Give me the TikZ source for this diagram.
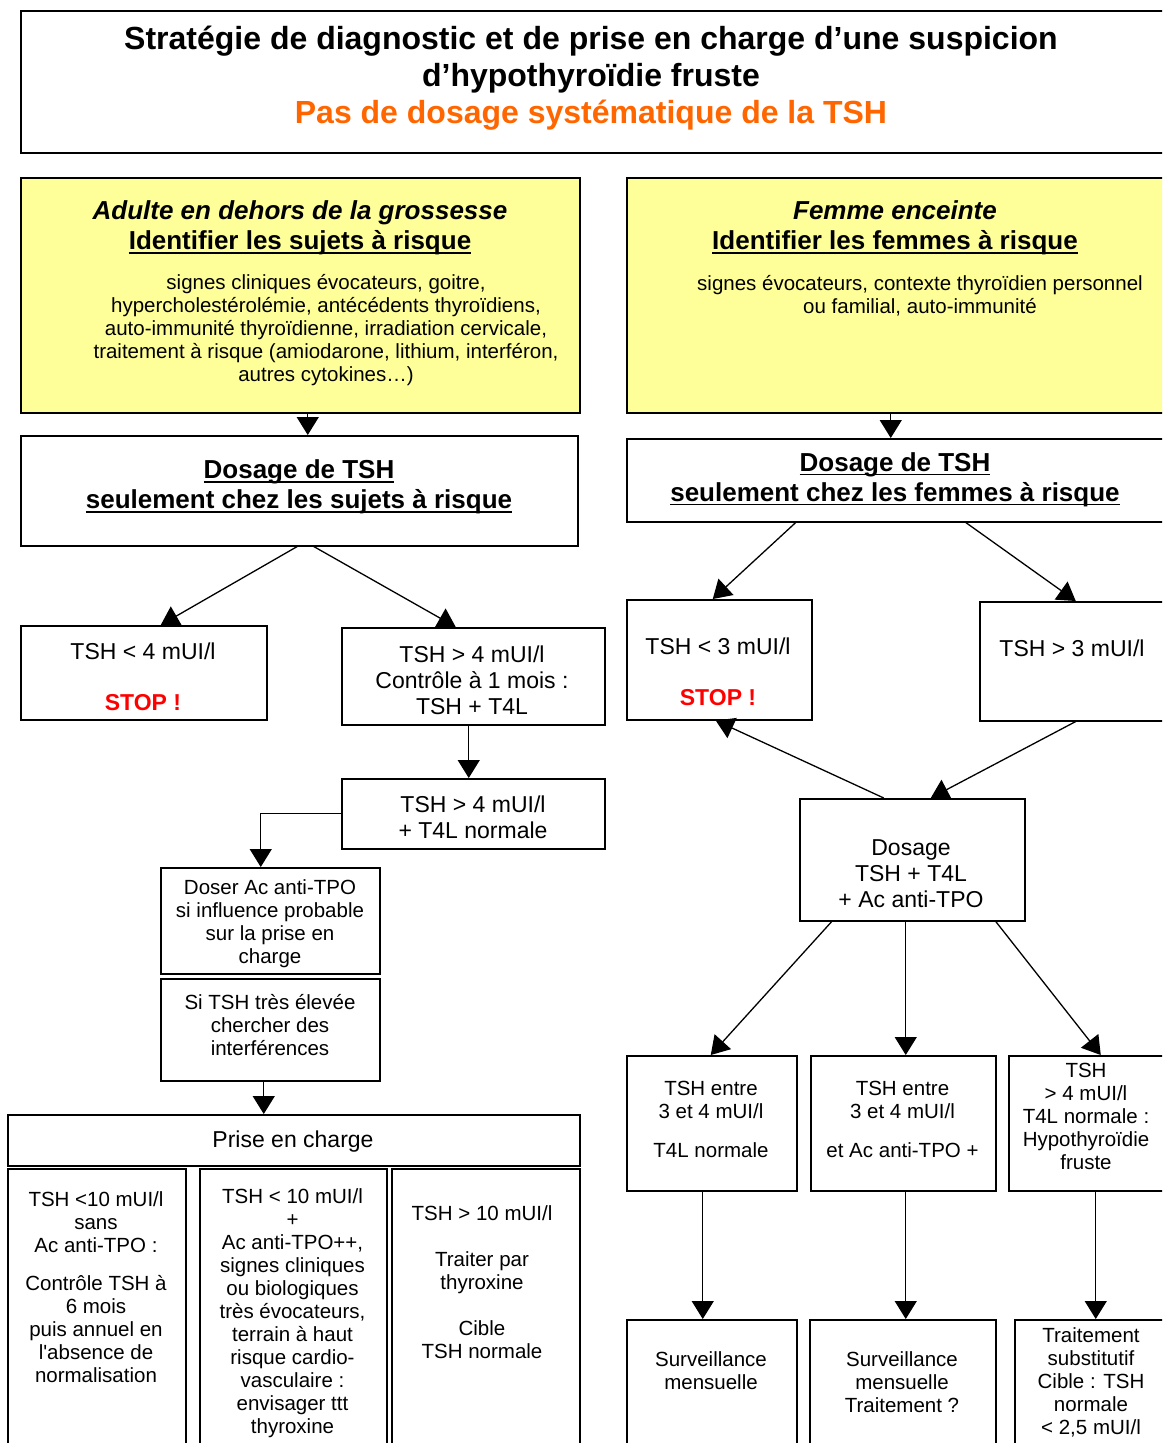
\documentclass[tikz,border=0pt]{standalone}
\usepackage{fontspec}
\setmainfont{Liberation Sans}
\newsavebox{\ulbox}
\newcommand{\myul}[1]{\sbox{\ulbox}{#1}\rlap{\vrule height -2.5pt depth 4pt width \wd\ulbox}\usebox{\ulbox}}
\usetikzlibrary{arrows.meta}
\definecolor{ylw}{HTML}{FFFF99}
\definecolor{orng}{HTML}{FF6600}
\begin{document}
\begin{tikzpicture}[x=1pt,y=-1pt,
  box/.style={draw, line width=1.5pt, rectangle, inner sep=0pt, anchor=north west},
  txt/.style={align=center, inner sep=0pt, yshift=-3pt, font=\fontsize{23}{26}\selectfont},
  sm/.style={align=center, inner sep=0pt, yshift=-2pt, font=\fontsize{20.5}{23}\selectfont},
  hd/.style={align=center, inner sep=0pt, yshift=-3pt, font=\fontsize{26}{30}\selectfont\bfseries},
  ttl/.style={align=center, inner sep=0pt, yshift=-3pt, font=\fontsize{32}{37}\selectfont\bfseries},
  arr/.style={line width=1.3pt, -{Triangle[width=22pt,length=18pt]}}
]
\fill[white] (0,0) rectangle (1162,1443);
\path[use as bounding box] (0,0) rectangle (1162,1443);
\clip (0,0) rectangle (1162,1443);

% title
\node[box, minimum width=1144, minimum height=142] (title) at (20,10) {};
\node[ttl] (titletxt) at (591,75) {Stratégie de diagnostic et de prise en charge d’une suspicion\\ d’hypothyroïdie fruste\\ \textcolor{orng}{Pas de dosage systématique de la TSH}};

% yellow boxes
\node[box, fill=ylw, minimum width=559, minimum height=235] (yelL) at (20,177) {};
\node[hd] (yelLh) at (300,225) {\textit{Adulte en dehors de la grossesse}\\ \myul{Identifier les sujets à risque}};
\node[sm] (yelLb) at (326,328) {signes cliniques évocateurs, goitre,\\ hypercholestérolémie, antécédents thyroïdiens,\\ auto-immunité thyroïdienne, irradiation cervicale,\\ traitement à risque (amiodarone, lithium, interféron,\\ autres cytokines…)};

\node[box, fill=ylw, minimum width=538, minimum height=235] (yelR) at (626,177) {};
\node[hd] (yelRh) at (895,225) {\textit{Femme enceinte}\\ \myul{Identifier les femmes à risque}};
\node[sm] (yelRb) at (920,293.5) {signes évocateurs, contexte thyroïdien personnel\\ ou familial, auto-immunité};

% dosage boxes
\node[box, minimum width=557, minimum height=110] (dosL) at (20,435) {};
\node[hd] (dosLt) at (299,484) {\myul{Dosage de TSH}\\ \myul{seulement chez les sujets à risque}};
\node[box, minimum width=539, minimum height=83] (dosR) at (626,438) {};
\node[hd] (dosRt) at (895,476.5) {\myul{Dosage de TSH}\\ \myul{seulement chez les femmes à risque}};

% left branch
\node[box, minimum width=246, minimum height=94] (tshA) at (20,625) {};
\node[txt] (tshAt) at (143,674) {TSH < 4 mUI/l\\[25pt] \textcolor{red}{\textbf{STOP !}}};
\node[box, minimum width=263, minimum height=97] (tshB) at (341,627) {};
\node[txt] (tshBt) at (472,677) {TSH > 4 mUI/l\\ Contrôle à 1 mois :\\ TSH + T4L};
\node[box, minimum width=263, minimum height=70] (tfl) at (341,778) {};
\node[txt] (tflt) at (473,814.5) {TSH > 4 mUI/l\\ + T4L normale};
\node[box, minimum width=219, minimum height=106] (doser) at (160,867) {};
\node[sm] (dosert) at (270,922) {Doser Ac anti-TPO\\ si influence probable\\ sur la prise en\\ charge};
\node[box, minimum width=219, minimum height=102] (interf) at (160,978) {};
\node[sm] (interft) at (270,1023) {Si TSH très élevée\\ chercher des\\ interférences};
\node[box, minimum width=572, minimum height=51] (prise) at (7,1114) {};
\node[txt] (priset) at (293,1139) {Prise en charge};
\node[box, minimum width=178, minimum height=300] (colA) at (7,1168) {};
\node[sm] (colAt) at (96,1285.5) {TSH <10 mUI/l\\ sans\\ Ac anti-TPO :\\[15pt] Contrôle TSH à\\ 6 mois\\ puis annuel en\\ l\textquotesingle absence de\\ normalisation};
\node[box, minimum width=187, minimum height=300] (colB) at (199,1168) {};
\node[sm] (colBt) at (292.5,1311.5) {TSH < 10 mUI/l\\ +\\ Ac anti-TPO++,\\ signes cliniques\\ ou biologiques\\ très évocateurs,\\ terrain à haut\\ risque cardio-\\ vasculaire :\\ envisager ttt\\ thyroxine};
\node[box, minimum width=188, minimum height=300] (colC) at (391,1168) {};
\node[sm] (colCt) at (482,1280.5) {TSH > 10 mUI/l\\[23pt] Traiter par\\ thyroxine\\[23pt] Cible\\ TSH normale};

% right branch
\node[box, minimum width=185, minimum height=120] (tshC) at (626,599) {};
\node[txt] (tshCt) at (718,669) {TSH < 3 mUI/l\\[25pt] \textcolor{red}{\textbf{STOP !}}};
\node[box, minimum width=186, minimum height=119] (tshD) at (979,601) {};
\node[txt] (tshDt) at (1072,645) {TSH > 3 mUI/l};
\node[box, minimum width=225, minimum height=122] (dos3) at (799,798) {};
\node[txt] (dos3t) at (911,870.5) {Dosage\\ TSH + T4L\\ + Ac anti-TPO};
\node[box, minimum width=170, minimum height=135] (rowA) at (626,1055) {};
\node[sm] (rowAt) at (711,1117.5) {TSH entre\\ 3 et 4 mUI/l\\[16pt] T4L normale};
\node[box, minimum width=185, minimum height=135] (rowB) at (810,1055) {};
\node[sm] (rowBt) at (902.5,1117.5) {TSH entre\\ 3 et 4 mUI/l\\[16pt] et Ac anti-TPO +};
\node[box, minimum width=157, minimum height=135] (rowC) at (1008,1055) {};
\node[sm] (rowCt) at (1086,1114.5) {TSH\\ > 4 mUI/l\\ T4L normale :\\ Hypothyroïdie\\ fruste};
\node[box, minimum width=170, minimum height=150] (botA) at (626,1319) {};
\node[sm] (botAt) at (711,1368.5) {Surveillance\\ mensuelle};
\node[box, minimum width=186, minimum height=150] (botB) at (809,1319) {};
\node[sm] (botBt) at (902,1380) {Surveillance\\ mensuelle\\ Traitement ?};
\node[box, minimum width=151, minimum height=150] (botC) at (1014,1319) {};
\node[sm] (botCt) at (1091,1380) {Traitement\\ substitutif\\ Cible : TSH\\ normale\\ < 2,5 mUI/l};

% connectors left
\draw[arr] ([xshift=7.5]yelL.south) -- ([xshift=8.5]dosL.north);
\draw[arr] ([xshift=-5]yelR.south) -- ([xshift=-5.5]dosR.north);
\draw[arr] ([xshift=-2]dosL.south) -- ([xshift=17]tshA.north);
\draw[arr] ([xshift=14.5]dosL.south) -- ([xshift=-17.5]tshB.north);
\draw[arr] ([xshift=-4.5]tshB.south) -- ([xshift=-4.5]tfl.north);
\draw[arr] (tfl.west) -| ([xshift=-9.5]doser.north);
\draw[arr] ([xshift=-6.5]interf.south) -- ([xshift=-30]prise.north);

% connectors right
\draw[arr] ([xshift=-100.5]dosR.south) -- ([xshift=-6.5]tshC.north);
\draw[arr] ([xshift=69.5]dosR.south) -- ([xshift=3]tshD.north);
\draw[arr] ([xshift=3]tshD.south) -- ([xshift=18.5]dos3.north);
\draw[arr] ([xshift=-28.5]dos3.north) -- ([xshift=-3.5]tshC.south);
\draw[arr] ([xshift=-80.5]dos3.south) -- ([xshift=-1]rowA.north);
\draw[arr] ([xshift=-6.5]dos3.south) -- ([xshift=2.5]rowB.north);
\draw[arr] ([xshift=83.5]dos3.south) -- ([xshift=13.5]rowC.north);
\draw[arr] ([xshift=-9]rowA.south) -- ([xshift=-9]botA.north);
\draw[arr] ([xshift=2.5]rowB.south) -- ([xshift=3]botB.north);
\draw[arr] ([xshift=8.5]rowC.south) -- ([xshift=5.5]botC.north);
\end{tikzpicture}
\end{document}
